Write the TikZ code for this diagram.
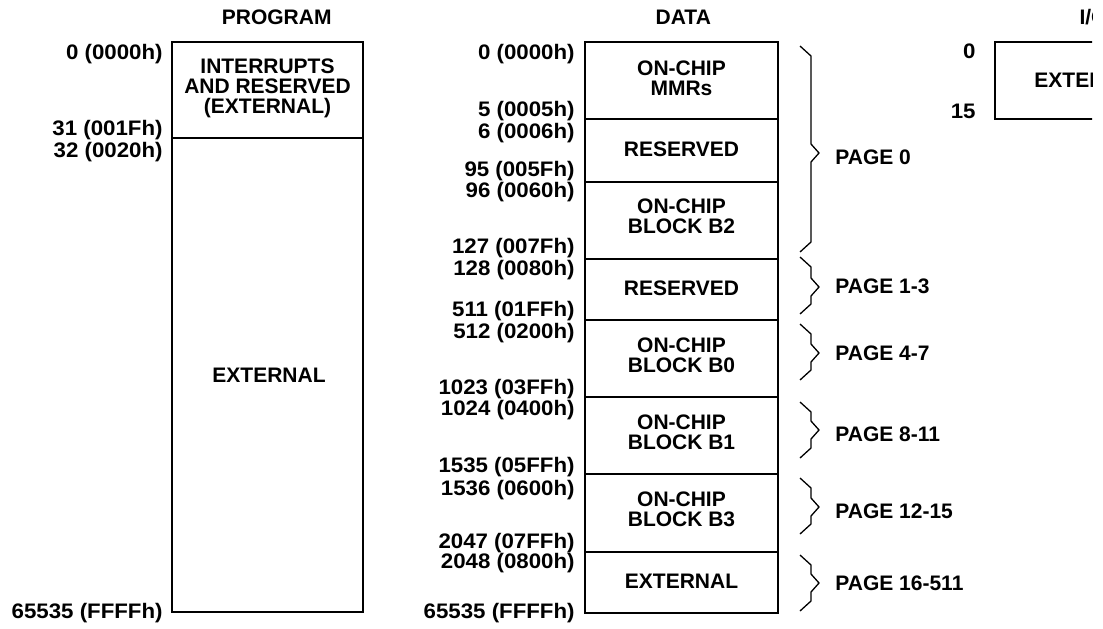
\documentclass[tikz,border=0pt]{standalone}
\usepackage{fontspec}
\setmainfont{Liberation Sans}
\newfontfamily\addrfont{Liberation Sans}[FakeStretch=1.06]
\usetikzlibrary{fit}
\begin{document}
\begin{tikzpicture}[x=0.5pt,y=-0.5pt,
  every node/.style={font=\bfseries\fontsize{10.5}{10}\selectfont, inner sep=0pt},
  region/.style={draw, line width=0.75pt, inner sep=0pt},
  regtext/.style={anchor=base, align=center},
  addr/.style={anchor=base east, font=\addrfont\bfseries\fontsize{10.5}{10}\selectfont},
  title/.style={anchor=base},
  pagelbl/.style={anchor=base west},
  bracel/.style={line width=0.65pt, line join=miter}]
\useasboundingbox (0,0) rectangle (1103,628);
\clip (0,0) rectangle (1092,628);
\newcommand{\membrace}[4]{%
  \coordinate (#4t) at (800,#1);
  \coordinate (#4p) at (819,#2);
  \coordinate (#4b) at (800,#3);
  \draw[bracel] (#4t) -- (811,{#1+10}) -- (811,{#2-9}) -- (#4p) -- (811,{#2+9}) -- (811,{#3-10}) -- (#4b);}
% titles
\node[title] (tprog) at (276.7,24) {PROGRAM};
\node[title] (tdata) at (683.3,24) {DATA};
\node[title] (tio) at (1093.5,24) {I/O};
% program space
\node[region, fit={(172,42) (363,138)}] (pint) {};
\node[region, fit={(172,138) (363,612)}] (pext) {};
\node[regtext] (pintt) at (267.5,113) {INTERRUPTS\\AND RESERVED\\(EXTERNAL)};
\node[regtext] (pextt) at (269,382) {EXTERNAL};
\node[addr] (pa0) at (163,59) {0 (0000h)};
\node[addr] (pa1) at (163,135) {31 (001Fh)};
\node[addr] (pa2) at (163,157) {32 (0020h)};
\node[addr] (pa3) at (163,618) {65535 (FFFFh)};
% data space
\node[region, fit={(585,42) (778,119)}] (dmmr) {};
\node[region, fit={(585,119) (778,182)}] (dres1) {};
\node[region, fit={(585,182) (778,259)}] (db2) {};
\node[region, fit={(585,259) (778,320)}] (dres2) {};
\node[region, fit={(585,320) (778,397)}] (db0) {};
\node[region, fit={(585,397) (778,474)}] (db1) {};
\node[region, fit={(585,474) (778,552)}] (db3) {};
\node[region, fit={(585,552) (778,613)}] (dext) {};
\node[regtext] (dmmrt) at (681.5,95) {ON-CHIP\\MMRs};
\node[regtext] (dres1t) at (681.5,156) {RESERVED};
\node[regtext] (db2t) at (681.5,233) {ON-CHIP\\BLOCK B2};
\node[regtext] (dres2t) at (681.5,295) {RESERVED};
\node[regtext] (db0t) at (681.5,372) {ON-CHIP\\BLOCK B0};
\node[regtext] (db1t) at (681.5,449) {ON-CHIP\\BLOCK B1};
\node[regtext] (db3t) at (681.5,526) {ON-CHIP\\BLOCK B3};
\node[regtext] (dextt) at (681.5,588) {EXTERNAL};
\node[addr] (da0) at (575,59) {0 (0000h)};
\node[addr] (da1) at (575,116) {5 (0005h)};
\node[addr] (da2) at (575,138) {6 (0006h)};
\node[addr] (da3) at (575,176) {95 (005Fh)};
\node[addr] (da4) at (575,197) {96 (0060h)};
\node[addr] (da5) at (575,253) {127 (007Fh)};
\node[addr] (da6) at (575,275) {128 (0080h)};
\node[addr] (da7) at (575,316) {511 (01FFh)};
\node[addr] (da8) at (575,338) {512 (0200h)};
\node[addr] (da9) at (575,394) {1023 (03FFh)};
\node[addr] (da10) at (575,415) {1024 (0400h)};
\node[addr] (da11) at (575,472) {1535 (05FFh)};
\node[addr] (da12) at (575,495) {1536 (0600h)};
\node[addr] (da13) at (575,548) {2047 (07FFh)};
\node[addr] (da14) at (575,568) {2048 (0800h)};
\node[addr] (da15) at (575,618) {65535 (FFFFh)};
% page braces
\membrace{46}{153}{252}{bA}
\membrace{257}{287}{314}{bB}
\membrace{324}{353}{380}{bC}
\membrace{402}{430}{458}{bD}
\membrace{478}{507}{534}{bE}
\membrace{555}{583}{611}{bF}
\node[pagelbl] (pg0) at (835,164) {PAGE 0};
\node[pagelbl] (pg1) at (835,293) {PAGE 1-3};
\node[pagelbl] (pg2) at (835,360) {PAGE 4-7};
\node[pagelbl] (pg3) at (835,441) {PAGE 8-11};
\node[pagelbl] (pg4) at (835,518) {PAGE 12-15};
\node[pagelbl] (pg5) at (835,590) {PAGE 16-511};
% I/O space
\node[region, fit={(995,42) (1187,119)}] (iext) {};
\node[regtext] (iextt) at (1091,87) {EXTERNAL};
\node[addr] (ia0) at (976,58) {0};
\node[addr] (ia1) at (976,118) {15};
\end{tikzpicture}
\end{document}
